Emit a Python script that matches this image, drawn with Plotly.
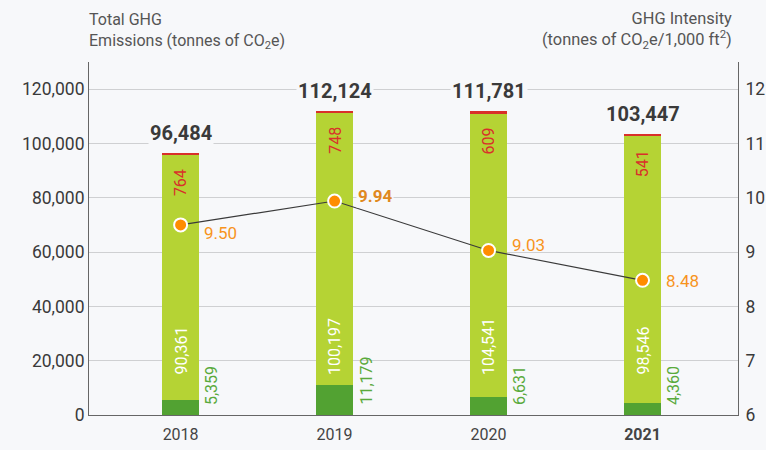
import plotly.graph_objects as go

years = ["2018", "2019", "2020", "2021"]
scope1 = [5359, 11179, 6631, 4360]
scope2 = [90361, 100197, 104541, 98546]
scope3 = [764, 748, 609, 541]
totals = [96484, 112124, 111781, 103447]
intensity = [9.50, 9.94, 9.03, 8.48]
left_ticks = [0, 20000, 40000, 60000, 80000, 100000, 120000]
right_ticks = [6, 7, 8, 9, 10, 11, 12]

BG = "#f7f8fa"
DARK_GREEN = "#52a232"
LIGHT_GREEN = "#b5d334"
RED = "#d9302a"
ORANGE = "#ff8c00"
FONT = "Roboto"

x = list(range(len(years)))
bw = 0.24

fig = go.Figure()
fig.add_trace(go.Bar(x=x, y=scope1, width=bw, marker_color=DARK_GREEN, marker_line_width=0, hoverinfo="skip"))
fig.add_trace(go.Bar(x=x, y=scope2, width=bw, marker_color=LIGHT_GREEN, marker_line_width=0, hoverinfo="skip"))
fig.add_trace(go.Bar(x=x, y=scope3, width=bw, marker_color=RED, marker_line_width=0, hoverinfo="skip"))
fig.add_trace(go.Scatter(x=x, y=intensity, yaxis="y2", mode="lines+markers",
                         line=dict(color="#3a3a3a", width=1.2),
                         marker=dict(size=13, color=ORANGE, line=dict(color="white", width=2)),
                         hoverinfo="skip"))

ann = []
label_yshift = [-8, 5, 5, -1]
for i in range(len(years)):
    # totals
    ann.append(dict(x=x[i], y=totals[i], xref="x", yref="y", text=f"<b>{totals[i]:,}</b>",
                    showarrow=False, yanchor="bottom", yshift=6,
                    font=dict(family=FONT, size=20, color="#3a3a3a"), bgcolor=BG, borderpad=1))
    # red (top) label
    ann.append(dict(x=x[i], y=totals[i], xref="x", yref="y", text=f"{scope3[i]:,}",
                    showarrow=False, yanchor="top", yshift=-14, textangle=-90,
                    font=dict(family=FONT, size=16, color=RED)))
    # light green label
    ann.append(dict(x=x[i], y=0, xref="x", yref="y", text=f"{scope2[i]:,}",
                    showarrow=False, yanchor="bottom", yshift=38, textangle=-90,
                    font=dict(family=FONT, size=16, color="white")))
    # dark green label
    ann.append(dict(x=x[i], y=0, xref="x", yref="y", text=f"{scope1[i]:,}",
                    showarrow=False, yanchor="bottom", yshift=8, xshift=31, textangle=-90,
                    font=dict(family=FONT, size=16, color="#5aaa3c")))
    # intensity label
    bold = i == 1
    lab = dict(x=x[i], y=intensity[i], xref="x", yref="y2",
               text=(f"<b>{intensity[i]:.2f}</b>" if bold else f"{intensity[i]:.2f}"),
               showarrow=False, xanchor="left", xshift=21, yshift=label_yshift[i],
               font=dict(family=FONT, size=17, color=("#e0891f" if bold else "#f7941d")))
    if bold:
        lab["bgcolor"] = BG
        lab["borderpad"] = 1
    ann.append(lab)

ann.append(dict(x=0, y=1, xref="paper", yref="paper", xshift=-2, yshift=8,
                text="Total GHG<br>Emissions (tonnes of CO<sub>2</sub>e)",
                showarrow=False, xanchor="left", yanchor="bottom", align="left",
                font=dict(family=FONT, size=16, color="#555555")))
ann.append(dict(x=1, y=1, xref="paper", yref="paper", xshift=-4, yshift=8,
                text="GHG Intensity<br>(tonnes of CO<sub>2</sub>e/1,000 ft<sup>2</sup>)",
                showarrow=False, xanchor="right", yanchor="bottom", align="right",
                font=dict(family=FONT, size=16.4, color="#555555")))

fig.update_layout(
    width=766, height=450,
    margin=dict(l=89, r=28, t=62, b=35, autoexpand=False),
    paper_bgcolor=BG, plot_bgcolor=BG,
    barmode="stack", showlegend=False,
    font=dict(family=FONT, size=18, color="#3a3a3a"),
    xaxis=dict(range=[-0.595, 3.62], tickvals=x,
               ticktext=years[:-1] + [f"<b>{years[-1]}</b>"],
               tickfont=dict(size=16, color="#444444"), ticklabelstandoff=5,
               showgrid=False, showline=True, linecolor="#666666", linewidth=1,
               ticks="", zeroline=False, automargin=False),
    yaxis=dict(range=[0, 130000], tickvals=left_ticks,
               ticktext=[f"{v:,}" for v in left_ticks],
               tickfont=dict(size=17.5, color="#3a3a3a"),
               showgrid=True, gridcolor="#cfd0d2", gridwidth=1,
               showline=True, linecolor="#666666", linewidth=1,
               zeroline=False, ticks="", automargin=False),
    yaxis2=dict(range=[6, 12.5], tickvals=right_ticks, overlaying="y", side="right",
                tickfont=dict(size=17.5, color="#3a3a3a"), ticklabelstandoff=3,
                showgrid=False, showline=True, linecolor="#666666", linewidth=1,
                zeroline=False, ticks="", automargin=False),
    annotations=ann,
)

fig.write_html("out.html", config={"displayModeBar": False},
               post_script="document.body.style.margin='0px';document.body.style.background='" + BG + "';")
